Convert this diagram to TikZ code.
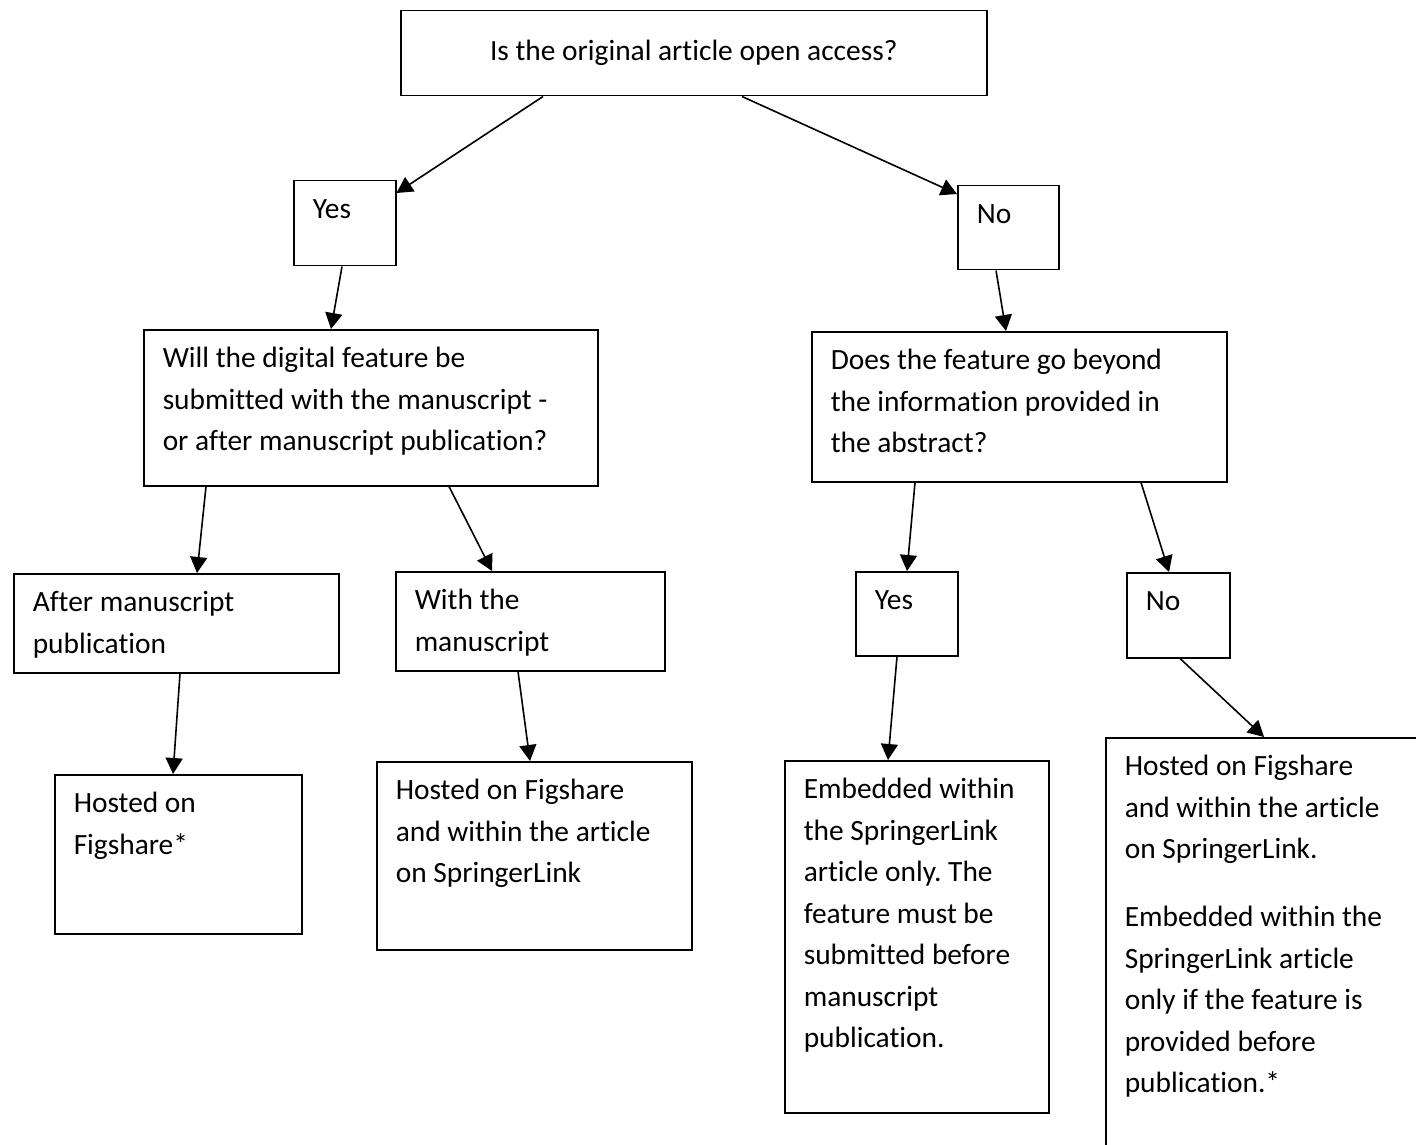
\documentclass[tikz,border=0pt]{standalone}
\usepackage{fontspec}
\setmainfont{Carlito}[Ligatures=CommonOff]
\usepackage{tikz}
\usetikzlibrary{arrows.meta}
\frenchspacing

% text block of a box: width, height, lines
\newcommand{\boxtext}[3]{\parbox[c][#2][t]{#1}{\raggedright\strut #3}}

\tikzset{
	flowbox/.style={draw, line width=0.75pt, anchor=north west,
		inner xsep=9.5pt, inner ysep=4.5pt,
		font=\fontsize{14.7}{20.75}\selectfont},
	flowarrow/.style={line width=0.8pt, -{Triangle[length=8pt, width=8.5pt]}},
}

\begin{document}
\begin{tikzpicture}[x=0.5pt, y=-0.5pt]
	
	% ------------------------------------------------
	% Ensure the dimensions of graphic are appropriate
	\useasboundingbox (0,0) rectangle (1416,1144);
	\clip (0,0) rectangle (1416,1144);
	
	% ------------------------------------------------
	% Question on top
	\node[flowbox, align=center, minimum width=293pt, minimum height=42.5pt] (Top) at (400,10) {Is the original article open access?};
	
	% ----------------
	% First answers
	\node[flowbox] (Yes1) at (293,180) {\boxtext{32pt}{33.5pt}{Yes}};
	\node[flowbox] (No1)  at (957,185) {\boxtext{31.5pt}{33pt}{No}};
	
	% ----------------
	% Second questions
	\node[flowbox] (Q2L) at (143,329) {\boxtext{208pt}{69pt}{Will the digital feature be\\ submitted with the manuscript -\\ or after manuscript publication?}};
	\node[flowbox] (Q2R) at (811,331) {\boxtext{188.5pt}{66pt}{Does the feature go beyond\\ the information provided in\\ the abstract?}};
	
	% ----------------
	% Second answers
	\node[flowbox] (After) at (13,573)  {\boxtext{143.5pt}{40.5pt}{After manuscript\\ publication}};
	\node[flowbox] (With)  at (395,571) {\boxtext{115.5pt}{40.5pt}{With the\\ manuscript}};
	\node[flowbox] (Yes2)  at (855,571) {\boxtext{32pt}{33pt}{Yes}};
	\node[flowbox] (No2)   at (1126,572) {\boxtext{32.5pt}{33.5pt}{No}};
	
	% ----------------
	% Outcomes
	\node[flowbox] (Hosted1)  at (54,774)   {\boxtext{104.5pt}{70.5pt}{Hosted on\\ Figshare*}};
	\node[flowbox] (Hosted2)  at (376,761)  {\boxtext{138.5pt}{85pt}{Hosted on Figshare\\ and within the article\\ on SpringerLink}};
	\node[flowbox] (Embedded) at (784,760)  {\boxtext{113pt}{167pt}{Embedded within\\ the SpringerLink\\ article only. The\\ feature must be\\ submitted before\\ manuscript\\ publication.}};
	\node[flowbox] (Last)     at (1105,737) {\boxtext{146pt}{201pt}{Hosted on Figshare\\ and within the article\\ on SpringerLink.\\[13.25pt] Embedded within the\\ SpringerLink article\\ only if the feature is\\ provided before\\ publication.*}};
	
	%%%%%%%%%%%%%%%%%%%%%%%%%%%%%%%%%%%%%%%%%
	% Arrows
	\draw[flowarrow] ([xshift=71.5pt]Top.south west) -- ([yshift=-6.5pt]Yes1.north east);
	\draw[flowarrow] ([xshift=171pt]Top.south west)  -- ([yshift=-4.5pt]No1.north west);
	
	\draw[flowarrow] ([xshift=24.5pt]Yes1.south west) -- ([xshift=94pt]Q2L.north west);
	\draw[flowarrow] ([xshift=19.5pt]No1.south west)  -- ([xshift=97.5pt]Q2R.north west);
	
	\draw[flowarrow] ([xshift=31.5pt]Q2L.south west) -- ([xshift=92pt]After.north west);
	\draw[flowarrow] ([xshift=153pt]Q2L.south west)  -- ([xshift=48.5pt]With.north west);
	\draw[flowarrow] ([xshift=52pt]Q2R.south west)   -- ([xshift=26pt]Yes2.north west);
	\draw[flowarrow] ([xshift=165pt]Q2R.south west)  -- ([xshift=21.5pt]No2.north west);
	
	\draw[flowarrow] ([xshift=83.5pt]After.south west) -- ([xshift=59.5pt]Hosted1.north west);
	\draw[flowarrow] ([xshift=61.5pt]With.south west)  -- ([xshift=77pt]Hosted2.north west);
	\draw[flowarrow] ([xshift=21pt]Yes2.south west)    -- ([xshift=52pt]Embedded.north west);
	\draw[flowarrow] ([xshift=27pt]No2.south west)     -- ([xshift=79.5pt]Last.north west);
	
\end{tikzpicture}
\end{document}
